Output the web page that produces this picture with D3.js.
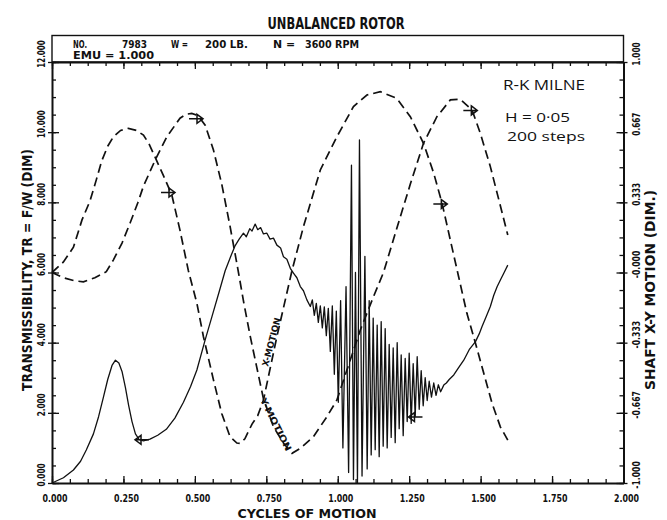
<!DOCTYPE html>
<html>
<head>
<meta charset="utf-8">
<script src="https://cdnjs.cloudflare.com/ajax/libs/d3/7.8.5/d3.min.js"></script>
<style>
body { margin: 0; background: #fff; }
svg { display: block; }
.plotter { font-family: "DejaVu Sans Condensed", "Liberation Sans Narrow", "DejaVu Sans", sans-serif; font-weight: bold; fill: #111; }
.hand { font-family: "Open Sans", "Noto Sans", sans-serif; fill: #111; }
</style>
</head>
<body>
<div id="chart"></div>
<script>
////////////////////////////////////////////////////////////
//////////////////////// Data //////////////////////////////
////////////////////////////////////////////////////////////

//Transmissibility TR = F/W (left axis)
var trCycles = [0.000,0.040,0.075,0.100,0.120,0.145,0.163,0.180,0.195,0.210,0.222,0.234,0.245,0.257,0.268,0.280,0.292,0.305,0.320,0.343,
	0.370,0.400,0.430,0.460,0.485,0.507,0.536,0.560,0.585,0.606,0.625,0.640,0.655,0.670,0.680,0.692,0.700,0.711,0.720,0.730,
	0.740,0.752,0.763,0.775,0.787,0.800,0.810,0.822,0.834,0.845,0.857,0.869,0.880,0.892,0.904,
	0.911,0.918,0.925,0.932,0.939,0.946,0.953,0.960,0.967,0.974,0.981,0.988,0.995,1.002,1.010,1.018,1.029,1.038,1.048,1.055,
	1.062,1.069,1.076,1.085,1.095,1.103,1.110,1.117,1.124,1.131,1.138,1.145,1.152,1.159,1.166,1.173,1.180,1.187,1.194,1.201,
	1.208,1.215,1.222,1.229,1.236,1.243,1.250,1.257,1.264,1.271,1.278,1.285,1.292,1.299,1.306,1.313,1.320,1.328,1.336,1.344,
	1.352,1.360,1.371,1.380,1.390,1.406,1.420,1.441,1.460,1.482,1.495,1.505,1.520,1.534,1.546,1.558,1.570,1.581,1.595];
var trValues = [0.00,0.15,0.37,0.62,0.94,1.40,1.89,2.45,2.95,3.35,3.50,3.42,3.18,2.72,2.22,1.75,1.40,1.24,1.20,1.25,
	1.36,1.53,1.85,2.30,2.75,3.22,4.08,4.75,5.45,6.05,6.45,6.75,6.95,7.12,7.02,7.25,7.18,7.38,7.22,7.28,
	7.10,7.12,6.95,6.98,6.78,6.70,6.45,6.38,6.12,5.98,5.85,5.60,5.48,5.22,5.03,
	5.22,4.78,5.12,4.58,5.05,4.42,5.02,4.20,4.98,3.75,5.05,3.10,4.90,2.30,5.20,1.00,5.60,0.30,9.06,0.10,
	6.00,0.00,9.78,0.20,6.46,0.40,5.20,0.80,4.70,0.95,4.50,0.75,4.60,1.05,4.40,1.00,3.95,1.30,3.85,1.15,
	4.00,1.55,3.65,1.35,3.55,1.75,3.70,1.70,3.40,1.90,3.60,2.10,3.20,2.20,3.00,2.35,2.90,2.45,2.85,2.50,
	2.80,2.60,2.79,2.85,2.95,3.08,3.25,3.50,3.80,4.03,4.25,4.46,4.75,5.03,5.35,5.60,5.80,5.98,6.21];

//Shaft X motion (right axis)
var xMotionCycles = [0.000,0.040,0.075,0.105,0.133,0.155,0.174,0.195,0.215,0.240,0.267,0.295,0.320,0.340,0.360,0.390,0.419,0.448,0.477,0.507,
	0.530,0.565,0.594,0.623,0.647,0.658,0.675,0.700,0.720,0.740,0.787,0.840,0.880,0.939,0.997,1.055,1.102,1.149,1.207,1.254,
	1.300,1.336,1.365,1.394,1.423,1.452,1.482,1.511,1.540,1.569,1.595];
var xMotionValues = [0.000,0.050,0.120,0.250,0.340,0.440,0.530,0.600,0.645,0.675,0.685,0.675,0.653,0.610,0.550,0.460,0.370,0.200,0.010,-0.146,
	-0.305,-0.510,-0.670,-0.780,-0.810,-0.812,-0.790,-0.720,-0.680,-0.606,-0.305,0.010,0.218,0.487,0.645,0.788,0.843,0.859,0.827,0.740,
	0.614,0.471,0.329,0.154,-0.020,-0.194,-0.336,-0.479,-0.621,-0.733,-0.796];

//Shaft Y motion (right axis)
var yMotionCycles = [0.000,0.040,0.080,0.110,0.150,0.190,0.215,0.245,0.273,0.300,0.320,0.361,0.402,0.448,0.470,0.489,0.505,0.518,0.536,0.565,
	0.594,0.623,0.650,0.672,0.694,0.715,0.740,0.775,0.810,0.840,0.869,0.915,0.962,0.997,1.032,1.079,1.125,1.160,1.219,1.254,
	1.300,1.347,1.394,1.429,1.470,1.499,1.534,1.564,1.595];
var yMotionValues = [0.000,-0.025,-0.040,-0.044,-0.025,0.004,0.060,0.140,0.234,0.330,0.410,0.534,0.645,0.733,0.752,0.756,0.748,0.733,0.700,0.582,
	0.420,0.220,0.020,-0.150,-0.305,-0.440,-0.600,-0.733,-0.810,-0.859,-0.835,-0.780,-0.685,-0.606,-0.463,-0.273,-0.115,0.000,0.265,0.420,
	0.614,0.740,0.820,0.823,0.772,0.661,0.503,0.344,0.178];

//Direction arrows drawn on the curves
var trArrowCycles = [0.308, 1.265],
	trArrowValues = [1.23, 1.88],
	xArrowCycles = [0.413, 1.366],
	xArrowValues = [0.38, 0.325],
	yArrowCycles = [0.511, 1.471],
	yArrowValues = [0.73, 0.77];

//Tick values and labels
var xTickValues = [0, 0.25, 0.5, 0.75, 1, 1.25, 1.5, 1.75, 2],
	xTickLabels = ["0.000","0.250","0.500","0.750","1.000","1.250","1.500","1.750","2.000"],
	leftTickValues = [0, 2, 4, 6, 8, 10, 12],
	leftTickLabels = ["0.000","2.000","4.000","6.000","8.000","10.000","12.000"],
	rightTickValues = [-1, -2/3, -1/3, 0, 1/3, 2/3, 1],
	rightTickLabels = ["-1.000","-0.667","-0.333","-0.000","0.333","0.667","1.000"];

////////////////////////////////////////////////////////////
//////////////////////// Set-up ////////////////////////////
////////////////////////////////////////////////////////////

var W = 667, H = 520,
	ink = "#111",
	margin = {top: 62, right: 43.5, bottom: 37, left: 52},
	width = W - margin.left - margin.right,
	height = H - margin.top - margin.bottom;

var x = d3.scaleLinear().domain([0, 2]).range([0, width]);
var yL = d3.scaleLinear().domain([0, 12]).range([height, 0]);
var yR = d3.scaleLinear().domain([-1, 1]).range([height, 0]);

var svg = d3.select("#chart").append("svg")
	.attr("width", W)
	.attr("height", H);

svg.append("rect").attr("width", W).attr("height", H).attr("fill", "#fff");

var g = svg.append("g")
	.attr("transform", "translate(" + margin.left + "," + margin.top + ")")
	.attr("color", ink);

//plotter style text, squeezed to the width
function plotText(sel, str, size, len) {
	sel.attr("class", "plotter")
		.style("font-size", size + "px")
		.text(str);
	if (len) sel.attr("textLength", len).attr("lengthAdjust", "spacingAndGlyphs");
	return sel;
}

////////////////////////////////////////////////////////////
/////////////////////// Header /////////////////////////////
////////////////////////////////////////////////////////////

plotText(svg.append("text").attr("x", 336).attr("y", 29).attr("text-anchor", "middle"), "UNBALANCED ROTOR", 15, 137);

g.append("rect")
	.attr("x", 0).attr("y", -26.5)
	.attr("width", width).attr("height", 26.5)
	.attr("fill", "none").attr("stroke", ink).attr("stroke-width", 1.4);

var header1 = [["NO.", 73, 14], ["7983", 122, 25], ["W =", 171, 17], ["200 LB.", 205, 43], ["N =", 273, 22], ["3600 RPM", 305, 54]];
header1.forEach(function(d) {
	plotText(svg.append("text").attr("x", d[1]).attr("y", 48), d[0], 10, d[2]);
});
plotText(svg.append("text").attr("x", 73).attr("y", 59), "EMU = 1.000", 10, 81);

////////////////////////////////////////////////////////////
//////////////////////// Axes //////////////////////////////
////////////////////////////////////////////////////////////

var xMinor = d3.range(0, 2.0001, 0.0625),
	leftMinor = d3.range(0, 12.001, 0.5),
	rightMinor = d3.range(-12, 13, 1).map(function(d) { return d / 12; });

function drawAxis(axis, transform, keepDomain) {
	var a = g.append("g").attr("transform", transform || null).call(axis);
	a.selectAll("text").remove();
	a.selectAll(".tick line").attr("stroke-width", 1.3);
	if (keepDomain) a.select(".domain").attr("stroke-width", 2);
	else a.select(".domain").remove();
	return a;
}

//bottom and top
drawAxis(d3.axisBottom(x).tickValues(xTickValues).tickSize(-7).tickSizeOuter(0), "translate(0," + height + ")", true);
drawAxis(d3.axisBottom(x).tickValues(xMinor).tickSize(-4).tickSizeOuter(0), "translate(0," + height + ")");
drawAxis(d3.axisTop(x).tickValues(xTickValues).tickSize(-7).tickSizeOuter(0), null, true);
drawAxis(d3.axisTop(x).tickValues(xMinor).tickSize(-4).tickSizeOuter(0));

//left
drawAxis(d3.axisLeft(yL).tickValues(leftTickValues).tickSize(-7).tickSizeOuter(0), null, true);
drawAxis(d3.axisLeft(yL).tickValues(leftTickValues).tickSize(4).tickSizeOuter(0));
drawAxis(d3.axisLeft(yL).tickValues(leftMinor).tickSize(-4).tickSizeOuter(0));

//right
drawAxis(d3.axisRight(yR).tickValues(rightTickValues).tickSize(-7).tickSizeOuter(0), "translate(" + width + ",0)", true);
drawAxis(d3.axisRight(yR).tickValues(rightTickValues).tickSize(4).tickSizeOuter(0), "translate(" + width + ",0)");
drawAxis(d3.axisRight(yR).tickValues(rightMinor).tickSize(-4).tickSizeOuter(0), "translate(" + width + ",0)");

//tick labels
xTickValues.forEach(function(v, i) {
	plotText(g.append("text").attr("x", x(v) + 3).attr("y", height + 19).attr("text-anchor", "middle"), xTickLabels[i], 11, 25);
});
leftTickValues.forEach(function(v, i) {
	plotText(g.append("text")
		.attr("transform", "translate(-7," + (yL(v) - 8) + ") rotate(-90)")
		.attr("text-anchor", "middle"), leftTickLabels[i], 11, leftTickLabels[i].length * 4.6);
});
rightTickValues.forEach(function(v, i) {
	plotText(g.append("text")
		.attr("transform", "translate(" + (width + 16) + "," + (yR(v) - 8) + ") rotate(-90)")
		.attr("text-anchor", "middle"), rightTickLabels[i], 11, rightTickLabels[i].length * 4.6);
});

//axis titles
plotText(svg.append("text").attr("x", 307).attr("y", 518).attr("text-anchor", "middle"), "CYCLES OF MOTION", 13, 139);
plotText(svg.append("text")
	.attr("transform", "translate(32,270) rotate(-90)")
	.attr("text-anchor", "middle"), "TRANSMISSIBILITY, TR = F/W (DIM)", 14, 242);
plotText(svg.append("text")
	.attr("transform", "translate(655,290) rotate(-90)")
	.attr("text-anchor", "middle"), "SHAFT X-Y MOTION  (DIM.)", 14, 200);

////////////////////////////////////////////////////////////
/////////////////////// Curves /////////////////////////////
////////////////////////////////////////////////////////////

var trLine = d3.line()
	.x(function(d) { return x(d[0]); })
	.y(function(d) { return yL(d[1]); });
var rLine = d3.line()
	.x(function(d) { return x(d[0]); })
	.y(function(d) { return yR(d[1]); });

g.append("path")
	.datum(d3.zip(xMotionCycles, xMotionValues))
	.attr("d", rLine)
	.attr("fill", "none").attr("stroke", ink)
	.attr("stroke-width", 1.7).attr("stroke-dasharray", "9,5");

g.append("path")
	.datum(d3.zip(yMotionCycles, yMotionValues))
	.attr("d", rLine)
	.attr("fill", "none").attr("stroke", ink)
	.attr("stroke-width", 1.7).attr("stroke-dasharray", "9,5");

g.append("path")
	.datum(d3.zip(trCycles, trValues))
	.attr("d", trLine)
	.attr("fill", "none").attr("stroke", ink)
	.attr("stroke-width", 1.3).attr("stroke-linejoin", "round");

//arrows
var arrowPath = "M-9,0H4M-1,-4.5L5,0L-1,4.5Z";
function drawArrows(cx, cy, scaleY, dir) {
	cx.forEach(function(c, i) {
		g.append("path")
			.attr("d", arrowPath)
			.attr("transform", "translate(" + x(c) + "," + scaleY(cy[i]) + ") scale(" + dir + ",1)")
			.attr("fill", "none").attr("stroke", ink).attr("stroke-width", 1.5);
	});
}
drawArrows(trArrowCycles, trArrowValues, yL, -1);
drawArrows(xArrowCycles, xArrowValues, yR, 1);
drawArrows(yArrowCycles, yArrowValues, yR, 1);

//curve labels
plotText(svg.append("text").attr("transform", "translate(268,367) rotate(-75)"), "X-MOTION", 9, 50);
plotText(svg.append("text").attr("transform", "translate(260,400) rotate(63)"), "Y-MOTION", 9, 58);

//hand written notes
svg.append("text").attr("class", "hand").attr("x", 503).attr("y", 90)
	.style("font-size", "15px").attr("textLength", 82).attr("lengthAdjust", "spacingAndGlyphs").text("R-K MILNE");
svg.append("text").attr("class", "hand").attr("x", 505).attr("y", 122)
	.style("font-size", "13px").attr("textLength", 65).attr("lengthAdjust", "spacingAndGlyphs").text("H = 0·05");
svg.append("text").attr("class", "hand").attr("x", 507).attr("y", 141)
	.style("font-size", "13px").attr("textLength", 78).attr("lengthAdjust", "spacingAndGlyphs").text("200 steps");
</script>
</body>
</html>
